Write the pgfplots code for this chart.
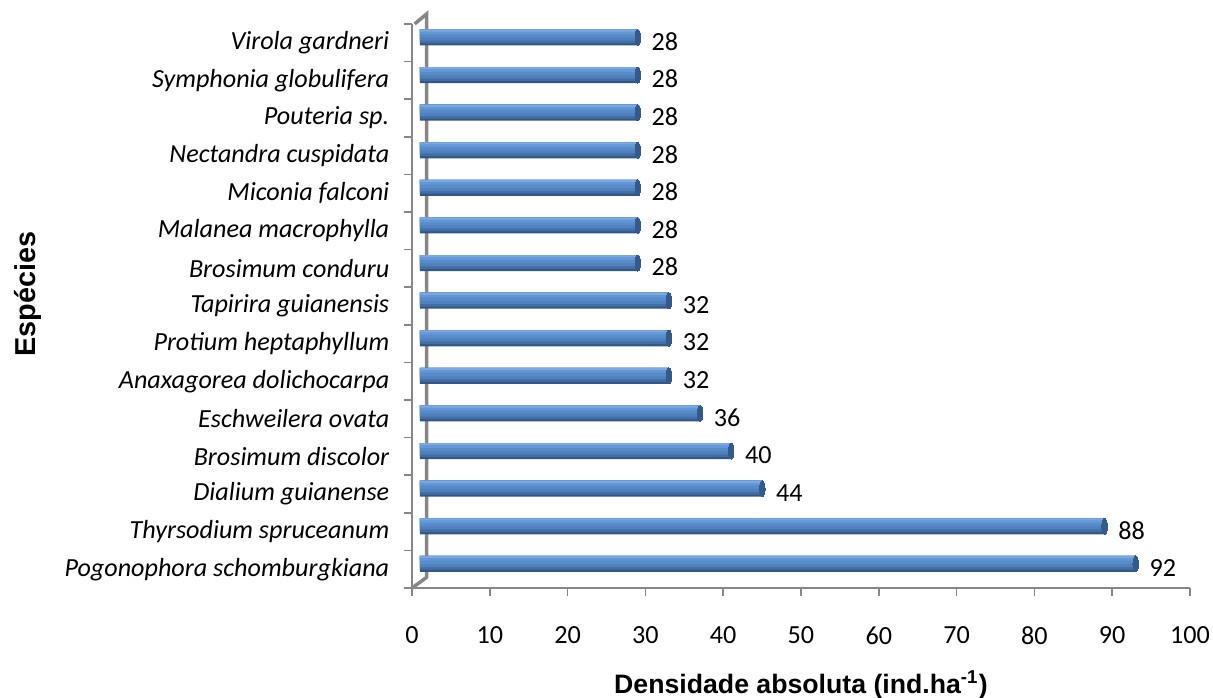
\documentclass[border=0pt]{standalone}
\usepackage{pgfplots}
\usepackage{pgfplotstable}
\pgfplotsset{compat=1.18}
\usepackage{fontspec}
\setmainfont{Carlito}
\newfontfamily\arialf{Liberation Sans}
\definecolor{axgray}{RGB}{134,134,134}
\definecolor{bA}{RGB}{50,86,134}
\definecolor{bB}{RGB}{66,110,166}
\definecolor{bC}{RGB}{79,129,189}
\definecolor{bD}{RGB}{88,139,202}
\definecolor{bE}{RGB}{100,151,214}
\definecolor{bF}{RGB}{122,168,226}
\definecolor{bcap}{RGB}{52,90,140}
\pgfplotstableread{
c v
0 92
1 88
2 44
3 40
4 36
5 32
6 32
7 32
8 28
9 28
10 28
11 28
12 28
13 28
14 28
}\datatab
\begin{document}
\begin{tikzpicture}
\begin{axis}[
  name=ax,
  scale only axis,
  width=291.75pt, height=211.5pt,
  xmin=0, xmax=100,
  ymin=-0.5, ymax=14.5,
  xtick={0,10,...,100},
  ytick={0,...,14},
  yticklabels={Pogonophora schomburgkiana, Thyrsodium spruceanum, Dialium guianense, Brosimum discolor, Eschweilera ovata, Anaxagorea dolichocarpa, Protium heptaphyllum, Tapirira guianensis, Brosimum conduru, Malanea macrophylla, Miconia falconi, Nectandra cuspidata, Pouteria sp., Symphonia globulifera, Virola gardneri},
  minor ytick={-0.5,0.5,...,14.5},
  axis x line*=bottom,
  axis y line*=left,
  axis line style={axgray, line width=0.8pt, -},
  tick align=outside,
  major tick length=3pt,
  minor tick length=3pt,
  major y tick style={draw=none},
  minor y tick style={draw=axgray, line width=0.6pt},
  x tick style={draw=axgray, line width=0.6pt},
  /pgf/number format/assume math mode=true,
  ticklabel style={font=\fontsize{9.8}{11}\selectfont},
  yticklabel style={font=\fontsize{9.8}{11}\selectfont\itshape, xshift=-2pt},
  xticklabel style={yshift=-8pt},
  xlabel={Densidade absoluta (ind.ha\textsuperscript{-1})},
  ylabel={Espécies},
  xlabel style={font=\arialf\bfseries\fontsize{10}{12}\selectfont, at={(rel axis cs:0.5,-0.172)}, anchor=center},
  ylabel style={font=\arialf\bfseries\fontsize{10.8}{13}\selectfont, at={(rel axis cs:-0.4936,0.521)}, anchor=center},
  clip=false,
  barbase/.style={xbar, draw=none, xshift=3pt, yshift=2pt, forget plot},
]
\draw[axgray, line width=1.3pt] (rel axis cs:0,0) -- ([xshift=5.5pt,yshift=4pt]rel axis cs:0,0) -- ([xshift=5.5pt,yshift=3.8pt]rel axis cs:0,1) -- ([xshift=1pt]rel axis cs:0,1);
\addplot[barbase, bar width=6pt, fill=bA] table[x=v, y=c] {\datatab};
\addplot[barbase, bar width=5.2pt, bar shift=0.4pt, fill=bB] table[x=v, y=c] {\datatab};
\addplot[barbase, bar width=4.2pt, bar shift=0.9pt, fill=bC] table[x=v, y=c] {\datatab};
\addplot[barbase, bar width=3pt, bar shift=1.5pt, fill=bD] table[x=v, y=c] {\datatab};
\addplot[barbase, bar width=1.8pt, bar shift=2.1pt, fill=bE] table[x=v, y=c] {\datatab};
\addplot[barbase, bar width=0.8pt, bar shift=2.6pt, fill=bF] table[x=v, y=c] {\datatab};
\addplot[only marks, color=bcap, mark=*, mark size=3pt, xshift=3pt, yshift=2pt, forget plot,
  mark options={xscale=0.35, fill=bcap, draw=bcap, line width=0pt}] table[x=v, y=c] {\datatab};
\addplot[xbar, bar width=6pt, draw=none, fill=none, xshift=3pt, yshift=2pt,
  nodes near coords, point meta=explicit symbolic,
  every node near coord/.append style={font=\fontsize{9.8}{11}\selectfont, anchor=west, inner sep=2pt, xshift=3pt, yshift=-1.5pt}]
  table[x=v, y=c, meta=v] {\datatab};
\end{axis}
\pgfresetboundingbox
\path[use as bounding box] ([xshift=-154.5pt,yshift=-41.25pt]ax.south west) rectangle ([xshift=8.625pt,yshift=9pt]ax.north east);
\end{tikzpicture}
\end{document}
